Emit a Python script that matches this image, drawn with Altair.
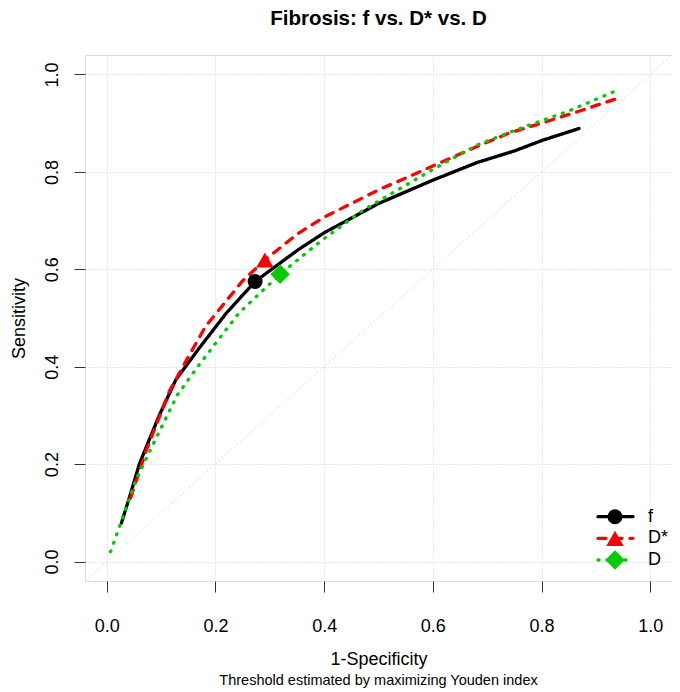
import altair as alt
import pandas as pd

# ---- data ----
series_names = ["f", "D*", "D"]

f_x = [0.027, 0.044, 0.060, 0.080, 0.097, 0.127, 0.170, 0.220, 0.273, 0.352, 0.400, 0.500, 0.600, 0.681, 0.750, 0.802, 0.869]
f_y = [0.079, 0.140, 0.200, 0.255, 0.301, 0.373, 0.438, 0.510, 0.575, 0.640, 0.675, 0.735, 0.783, 0.819, 0.843, 0.865, 0.889]

dstar_x = [0.044, 0.072, 0.115, 0.150, 0.182, 0.249, 0.291, 0.350, 0.400, 0.500, 0.600, 0.681, 0.741, 0.800, 0.870, 0.945]
dstar_y = [0.131, 0.226, 0.349, 0.420, 0.483, 0.575, 0.619, 0.672, 0.707, 0.763, 0.812, 0.852, 0.880, 0.900, 0.925, 0.953]

d_x = [0.007, 0.027, 0.054, 0.091, 0.130, 0.170, 0.243, 0.319, 0.374, 0.400, 0.470, 0.500, 0.600, 0.681, 0.750, 0.850, 0.938]
d_y = [0.020, 0.083, 0.168, 0.254, 0.342, 0.404, 0.510, 0.590, 0.640, 0.663, 0.720, 0.740, 0.805, 0.855, 0.885, 0.925, 0.967]

youden_x = [0.273, 0.291, 0.319]
youden_y = [0.575, 0.619, 0.590]

diag_vals = [-0.04, 1.04]
tick_vals = [0.0, 0.2, 0.4, 0.6, 0.8, 1.0]
series_colors = ["#000000", "#FF0000", "#00CD00"]
series_shapes = ["circle", "triangle-up", "diamond"]
series_sizes = [225, 380, 180]
series_dashes = [[1, 0], [8, 8], [1, 8]]
legend_rows = [0, 1, 2]
subtitle_text = ["Threshold estimated by maximizing Youden index"]

# ---- tables ----
rows = []
for name, xs, ys in zip(series_names, [f_x, dstar_x, d_x], [f_y, dstar_y, d_y]):
    for i, (xv, yv) in enumerate(zip(xs, ys)):
        rows.append({"series": name, "fpr": xv, "tpr": yv, "i": i})
curves = pd.DataFrame(rows)
pts = pd.DataFrame({"series": series_names, "fpr": youden_x, "tpr": youden_y})
diag_df = pd.DataFrame({"fpr": diag_vals, "tpr": diag_vals})
leg_df = pd.DataFrame({"series": series_names, "row": legend_rows})
sub_df = pd.DataFrame({"t": subtitle_text})

FONT = "Liberation Sans"
W, H = 587, 526
xscale = alt.Scale(domain=[-0.04, 1.04], nice=False, zero=False)
yscale = alt.Scale(domain=[-0.04, 1.04], nice=False, zero=False)

common_axis = dict(
    values=tick_vals, format=".1f", grid=True, gridColor="#D3D3D3", gridDash=[1, 2],
    domain=False, tickSize=11, tickColor="#333333", tickWidth=1,
    labelFontSize=18, labelFont=FONT, labelColor="black", labelFlush=False, labelOverlap=False,
    titleFontSize=18, titleFont=FONT, titleFontWeight="normal", titleColor="black",
    titleAlign="center", titleBaseline="middle",
)
x_axis = alt.Axis(title="1-Specificity", labelPadding=25, titleX=W / 2, titleY=78, **common_axis)
y_axis = alt.Axis(title="Sensitivity", labelAngle=270, labelAlign="center", labelBaseline="alphabetic",
                  labelPadding=17, titleAngle=270, titleX=-66, titleY=H / 2, **common_axis)

X = alt.X("fpr:Q", scale=xscale, axis=x_axis)
Y = alt.Y("tpr:Q", scale=yscale, axis=y_axis)
Y_noaxis = alt.Y("tpr:Q", scale=yscale, axis=None)

stroke_enc = alt.Stroke("series:N", sort=series_names, scale=alt.Scale(range=series_colors), legend=None)
fill_enc = alt.Fill("series:N", sort=series_names, scale=alt.Scale(range=series_colors), legend=None)
dash_enc = alt.StrokeDash("series:N", sort=series_names, scale=alt.Scale(range=series_dashes), legend=None)
shape_enc = alt.Shape("series:N", sort=series_names, scale=alt.Scale(range=series_shapes), legend=None)
size_enc = alt.Size("series:N", sort=series_names, scale=alt.Scale(range=series_sizes), legend=None)

diag = alt.Chart(diag_df).mark_line(color="#C4C4C4", strokeWidth=1, strokeDash=[1, 3]).encode(x=X, y=Y)

lines = alt.Chart(curves).mark_line(strokeWidth=3.3, strokeCap="round").encode(
    x=X, y=Y_noaxis, stroke=stroke_enc, strokeDash=dash_enc, order="i:Q",
)

points = alt.Chart(pts).mark_point(filled=True, opacity=1, strokeWidth=0).encode(
    x=X, y=Y_noaxis, fill=fill_enc, shape=shape_enc, size=size_enc,
)

# legend (bottom-right, inside the box), positioned with a pixel scale for its rows
LY = alt.Y("row:Q", scale=alt.Scale(domain=[0, 2], range=[461.7, 505], nice=False, zero=False), axis=None)
leg_lines = alt.Chart(leg_df).mark_rule(strokeWidth=3.3, strokeCap="round").encode(
    x=alt.value(513), x2=alt.value(548), y=LY, stroke=stroke_enc, strokeDash=dash_enc,
)
leg_points = alt.Chart(leg_df).mark_point(filled=True, opacity=1, strokeWidth=0).encode(
    x=alt.value(530), y=LY, fill=fill_enc, shape=shape_enc, size=size_enc,
)
leg_text = alt.Chart(leg_df).mark_text(font=FONT, fontSize=18, color="black", align="left", baseline="middle").encode(
    x=alt.value(563), y=LY, text="series:N",
)

sub = alt.Chart(sub_df).mark_text(font=FONT, fontSize=14.5, color="black", align="center", baseline="middle").encode(
    text="t:N", x=alt.value(W / 2), y=alt.value(626)
)

chart = alt.layer(diag, lines, points, leg_lines, leg_points, leg_text, sub).resolve_scale(
    y="independent"
).properties(
    width=W, height=H,
    title=alt.TitleParams("Fibrosis: f vs. D* vs. D", font=FONT, fontSize=20.5, fontWeight="bold",
                          color="black", anchor="middle", offset=24),
    autosize=alt.AutoSizeParams(type="none"),
    padding={"left": 77, "top": 47, "right": 0, "bottom": 108},
).configure_view(stroke="#444444", strokeWidth=1).configure(background="white")

chart.save("out.html", embed_options={"renderer": "svg", "actions": False})
